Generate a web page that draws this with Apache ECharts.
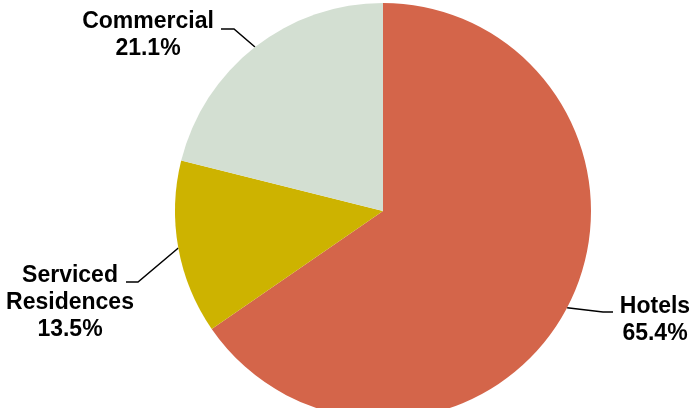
<!DOCTYPE html>
<html>
<head>
<meta charset="utf-8">
<script src="https://cdn.jsdelivr.net/npm/echarts@6/dist/echarts.min.js"></script>
<style>
html,body{margin:0;padding:0;background:#fff;}
#main{width:692px;height:408px;}
</style>
</head>
<body>
<div id="main"></div>
<script>
var names = ['Hotels', 'Serviced\nResidences', 'Commercial'];
var values = [65.4, 13.5, 21.1];
var colors = ['#D4654A', '#CDB300', '#D3DFD2'];
// label text centre and label line bend/end for each slice
var labelPos = [[655, 320], [70, 303], [148, 35]];
var lineBend = [[[603, 312], [613, 312]], [[138, 282], [126, 282]], [[234, 29], [221, 29]]];

var myChart = echarts.init(document.getElementById('main'));
var data = [];
for (var i = 0; i < names.length; i++) {
    data.push({
        value: values[i],
        name: names[i],
        itemStyle: {color: colors[i]}
    });
}

var option = {
    backgroundColor: '#fff',
    animation: false,
    series: [{
        type: 'pie',
        startAngle: 90,
        clockwise: true,
        radius: [0, 208],
        center: [383, 211],
        data: data,
        itemStyle: {borderWidth: 0},
        label: {
            show: true,
            formatter: function (p) { return p.name + '\n' + p.value.toFixed(1) + '%'; },
            fontFamily: 'Liberation Sans, Arial, sans-serif',
            fontWeight: 'bold',
            fontSize: 23,
            lineHeight: 27,
            color: '#000',
            align: 'center',
            overflow: 'none',
            edgeDistance: 0,
            bleedMargin: 0
        },
        labelLine: {
            show: true,
            lineStyle: {color: '#000', width: 1.5}
        },
        labelLayout: function (params) {
            var i = params.dataIndex;
            var p = labelPos[i];
            var pts = params.labelLinePoints;
            var out = {x: p[0], y: p[1], align: 'center', verticalAlign: 'middle'};
            if (pts) {
                out.labelLinePoints = [pts[0], lineBend[i][0], lineBend[i][1]];
            }
            return out;
        }
    }]
};
myChart.setOption(option);
</script>
</body>
</html>
